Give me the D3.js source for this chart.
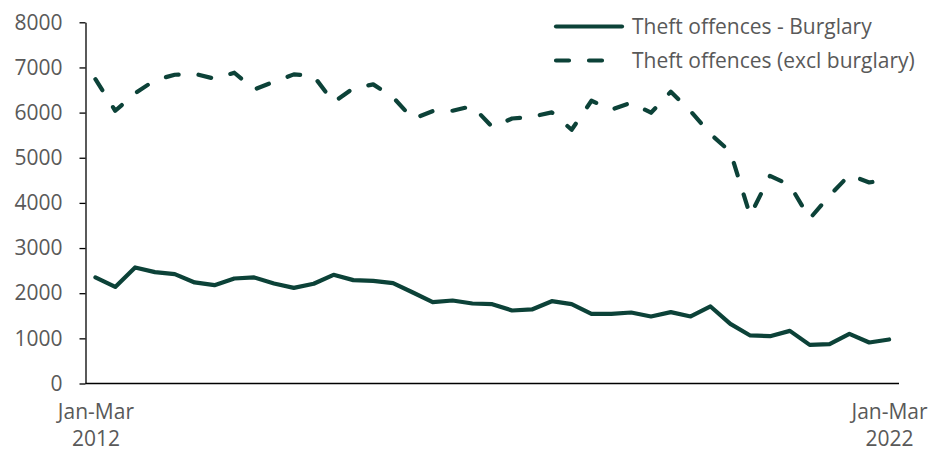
<!DOCTYPE html>
<html>
<head>
<meta charset="utf-8">
<script src="https://cdn.jsdelivr.net/npm/d3@7"></script>
<style>
  html, body { margin: 0; padding: 0; background: #ffffff; }
  svg { display: block; }
  text { font-family: "Open Sans", sans-serif; fill: #595959; }
</style>
</head>
<body>
<svg id="chart" width="931" height="452"></svg>
<script>
const categories = [
  "Jan-Mar 2012","Apr-Jun 2012","Jul-Sep 2012","Oct-Dec 2012",
  "Jan-Mar 2013","Apr-Jun 2013","Jul-Sep 2013","Oct-Dec 2013",
  "Jan-Mar 2014","Apr-Jun 2014","Jul-Sep 2014","Oct-Dec 2014",
  "Jan-Mar 2015","Apr-Jun 2015","Jul-Sep 2015","Oct-Dec 2015",
  "Jan-Mar 2016","Apr-Jun 2016","Jul-Sep 2016","Oct-Dec 2016",
  "Jan-Mar 2017","Apr-Jun 2017","Jul-Sep 2017","Oct-Dec 2017",
  "Jan-Mar 2018","Apr-Jun 2018","Jul-Sep 2018","Oct-Dec 2018",
  "Jan-Mar 2019","Apr-Jun 2019","Jul-Sep 2019","Oct-Dec 2019",
  "Jan-Mar 2020","Apr-Jun 2020","Jul-Sep 2020","Oct-Dec 2020",
  "Jan-Mar 2021","Apr-Jun 2021","Jul-Sep 2021","Oct-Dec 2021",
  "Jan-Mar 2022"
];
const burglary = [2350,2140,2570,2466,2422,2238,2178,2326,2349,2216,2119,2210,2407,2289,2274,2222,2016,1801,1838,1772,1757,1617,1640,1823,1757,1542,1542,1573,1484,1580,1484,1706,1321,1064,1048,1166,855,871,1099,908,975];
const exclBurglary = [6740,6040,6426,6720,6838,6860,6751,6883,6510,6683,6846,6810,6230,6540,6625,6340,5860,6034,6041,6145,5680,5870,5908,6005,5620,6262,6064,6218,5997,6462,6030,5524,5132,3720,4600,4394,3650,4160,4620,4453,4520];
const seriesNames = ["Theft offences - Burglary", "Theft offences (excl burglary)"];
const yTicks = [0,1000,2000,3000,4000,5000,6000,7000,8000];
const xTickCats = ["Jan-Mar 2012", "Jan-Mar 2022"];

(function () {
const svg = d3.select("#chart");
const mLeft = 85.5, mRight = 899, mTop = 22.3, mBottom = 383.5;
const color = "#0c4238";
const fs = 21;

const x = d3.scalePoint().domain(categories).range([mLeft, mRight]).padding(0.5);
const y = d3.scaleLinear().domain([0, 8000]).range([mBottom, mTop]);

// Y axis
const yAxis = svg.append("g").attr("transform", `translate(${mLeft},0)`)
  .call(d3.axisLeft(y).tickValues(yTicks).tickSize(6).tickSizeOuter(0).tickPadding(17).tickFormat(d3.format("d")));
yAxis.select(".domain").attr("stroke", "#000").attr("stroke-width", 1.3);
yAxis.selectAll(".tick line").attr("stroke", "#000").attr("stroke-width", 1.3);
yAxis.selectAll(".tick text").attr("font-size", fs).attr("font-family", "Open Sans").attr("fill", "#595959");

// X axis
const xAxis = svg.append("g").attr("transform", `translate(0,${mBottom})`)
  .call(d3.axisBottom(x).tickValues(xTickCats).tickSize(0).tickSizeOuter(0).tickFormat(""));
xAxis.select(".domain").attr("stroke", "#000").attr("stroke-width", 1.3)
  .attr("d", `M${mLeft},0H${mRight}`);
xAxis.selectAll(".tick").each(function(d) {
  const parts = d.split(" ");
  const t = d3.select(this).append("text")
    .attr("text-anchor", "middle").attr("font-size", fs).attr("fill", "#595959");
  t.append("tspan").attr("x", 0).attr("y", 35).text(parts[0]);
  t.append("tspan").attr("x", 0).attr("y", 62).text(parts[1]);
});

// Lines
const line = d3.line().x((d, i) => x(categories[i])).y(d => y(d));
svg.append("path").datum(exclBurglary)
  .attr("d", line).attr("fill", "none").attr("stroke", color)
  .attr("stroke-width", 4.2).attr("stroke-linecap", "round").attr("stroke-linejoin", "round")
  .attr("stroke-dasharray", "13,20");
svg.append("path").datum(burglary)
  .attr("d", line).attr("fill", "none").attr("stroke", color)
  .attr("stroke-width", 4.2).attr("stroke-linecap", "round").attr("stroke-linejoin", "round");

// Legend
const legend = svg.append("g");
const legItems = [
  { name: seriesNames[0], dash: null, y: 26.5 },
  { name: seriesNames[1], dash: "13,20", y: 60.5 }
];
legItems.forEach(it => {
  legend.append("line").attr("x1", 556).attr("x2", 622).attr("y1", it.y).attr("y2", it.y)
    .attr("stroke", color).attr("stroke-width", 4.2).attr("stroke-linecap", "round")
    .attr("stroke-dasharray", it.dash);
  legend.append("text").attr("x", 632).attr("y", it.y + 7.5).attr("font-size", fs).text(it.name);
});
})();
</script>
</body>
</html>
